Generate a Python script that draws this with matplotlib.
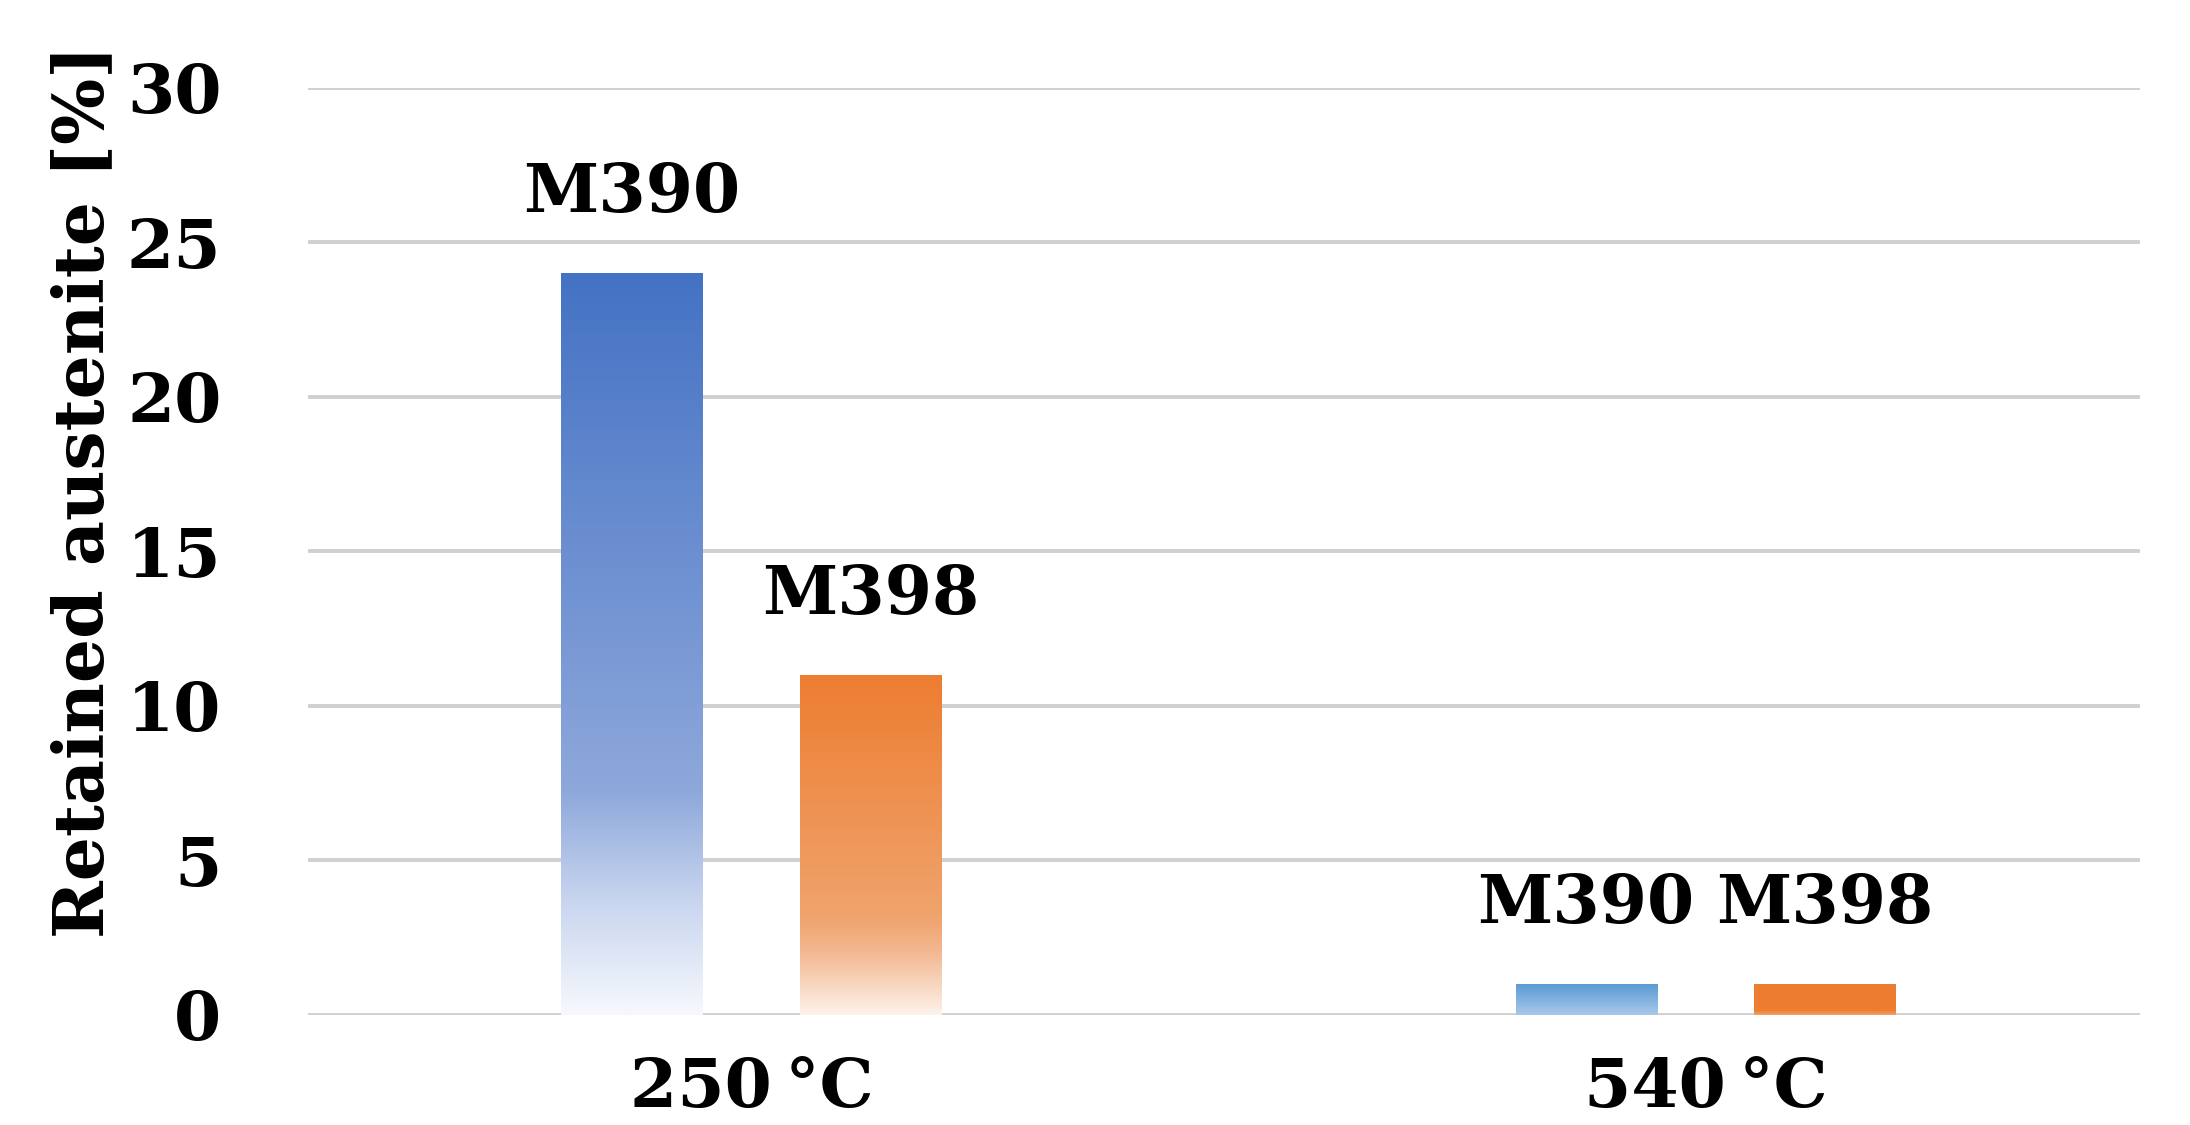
import numpy as np
import matplotlib
matplotlib.use("Agg")
import matplotlib.pyplot as plt
from matplotlib.colors import to_rgb

# data
categories = ["250\u2009\u00b0C", "540\u2009\u00b0C"]
series = ["M390", "M398"]
m390 = [24, 1]
m398 = [11, 1]

plt.rcParams['font.family'] = ['DejaVu Serif']
plt.rcParams['font.weight'] = 'bold'
FS = 49

fig = plt.figure(figsize=(21.9, 11.25), dpi=100)
ax = fig.add_axes([0.1405, 0.098, 0.8365, 0.824])

x = np.arange(len(categories))
width = 0.148
offset = 0.125


def gradient_fill(bar, stops):
    # stops: list of (position from top 0..1, colour)
    x0, y0 = bar.get_x(), bar.get_y()
    w, h = bar.get_width(), bar.get_height()
    t = np.linspace(0, 1, 256)
    pos = [s[0] for s in stops]
    cols = np.array([to_rgb(s[1]) for s in stops])
    img = np.stack([np.interp(t, pos, cols[:, k]) for k in range(3)], axis=-1)
    img = img[:, None, :]
    ax.imshow(img, extent=(x0, x0 + w, y0, y0 + h), origin='upper',
              aspect='auto', zorder=3, interpolation='bilinear')
    bar.set_alpha(0)


blue_stops = [(0, '#4472C4'), (0.7, '#8EA8DB'), (0.85, '#C9D6EF'), (1.0, '#F6F8FD')]
orange_stops = [(0, '#ED7D31'), (0.72, '#F0A46E'), (0.82, '#F3B993'), (1.0, '#FDF2EA')]
lightblue_stops = [(0, '#5B9BD5'), (1.0, '#A9C8EA')]
flat_orange = [(0, '#ED7D31'), (0.85, '#ED7D31'), (1.0, '#F3A06A')]

bars1 = ax.bar(x - offset, m390, width, color='#4472C4', zorder=3)
bars2 = ax.bar(x + offset, m398, width, color='#ED7D31', zorder=3)

gradient_fill(bars1[0], blue_stops)
gradient_fill(bars1[1], lightblue_stops)
gradient_fill(bars2[0], orange_stops)
gradient_fill(bars2[1], flat_orange)

for bars, name in [(bars1, series[0]), (bars2, series[1])]:
    for b in bars:
        ax.annotate(name, (b.get_x() + b.get_width() / 2, b.get_height()),
                    xytext=(0, 44), textcoords='offset points',
                    ha='center', va='baseline', fontsize=FS)

ax.set_xlim(-0.465, 1.455)
ax.set_ylim(0, 30)
ax.set_yticks(range(0, 31, 5))
ax.set_xticks(x)
ax.set_xticklabels(categories)
ax.tick_params(axis='y', length=0, pad=62, labelsize=FS)
ax.tick_params(axis='x', length=0, pad=30, labelsize=FS)
ax.grid(True, axis='y', color='#D0D0D0', linewidth=2.8, zorder=0)
ax.set_axisbelow(True)
for s in ax.spines.values():
    s.set_visible(False)

fig.text(0.038, 0.563, "Retained austenite [%]", rotation=90,
         ha='center', va='center', fontsize=50)

fig.savefig("out.png", dpi=100)
